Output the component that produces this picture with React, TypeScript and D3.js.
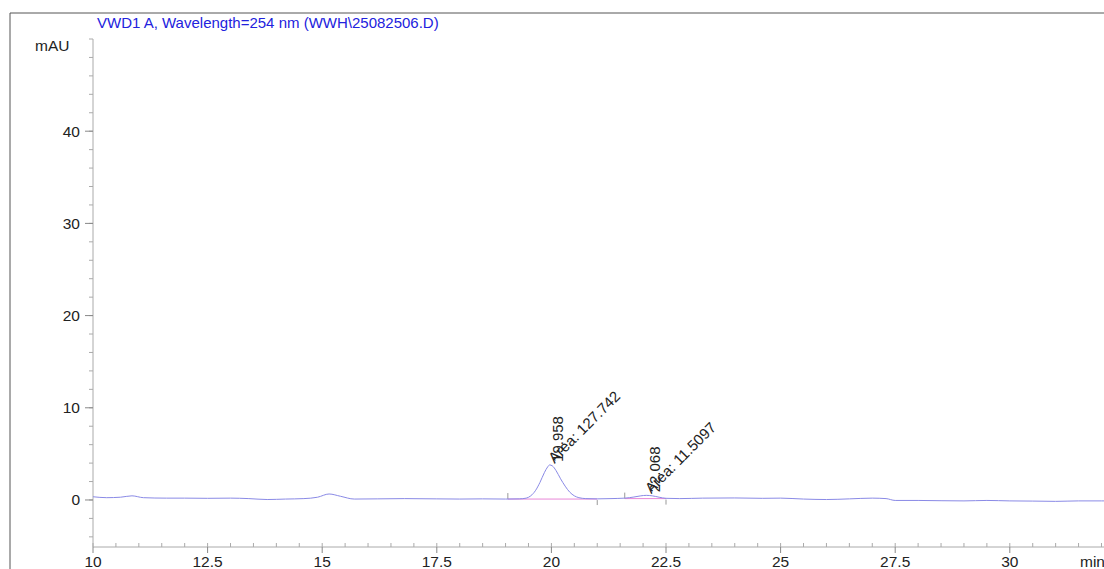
import * as d3 from 'd3';

// retention time (min) and detector signal (mAU)
const times = [
  10, 10.3, 10.6, 10.85, 11.1, 11.6, 12, 12.5, 13, 13.4, 13.8, 14.2, 14.6, 14.9, 15.15, 15.4, 15.7, 16.2,
  16.8, 17.5, 18, 18.5, 19, 19.3, 19.45, 19.55, 19.65, 19.75, 19.85, 19.92, 19.96, 20.02, 20.1, 20.2,
  20.3, 20.4, 20.5, 20.6, 20.75, 21, 21.3, 21.6, 21.8, 21.95, 22.07, 22.2, 22.35, 22.5, 22.8, 23.3,
  24, 24.6, 25, 25.5, 26, 26.5, 27, 27.3, 27.5, 28, 28.5, 29, 29.5, 30, 30.5, 31, 31.5, 32, 32.3,
];
const signal = [
  0.35, 0.25, 0.3, 0.45, 0.25, 0.2, 0.2, 0.18, 0.2, 0.15, 0.05, 0.1, 0.15, 0.3, 0.65, 0.4, 0.1, 0.12,
  0.15, 0.12, 0.1, 0.12, 0.1, 0.12, 0.2, 0.45, 1.0, 1.9, 3.0, 3.6, 3.8, 3.7, 3.2, 2.3,
  1.5, 0.85, 0.45, 0.25, 0.15, 0.12, 0.15, 0.2, 0.32, 0.45, 0.5, 0.45, 0.3, 0.18, 0.15, 0.2,
  0.22, 0.18, 0.2, 0.1, 0.05, 0.12, 0.2, 0.15, -0.05, -0.05, -0.08, -0.1, -0.05, -0.1, -0.12, -0.15, -0.1, -0.1, -0.1,
];

// integrated peaks: retention time, area, baseline start/end
const peakTimes = [19.958, 22.068];
const peakAreas = ['127.742', '11.5097'];
const peakHeights = [3.8, 0.5];
const baseStart = [19.05, 21.6];
const baseEnd = [21.0, 22.5];
const baseLevel = [0.1, 0.15];

const xTicks = [10, 12.5, 15, 17.5, 20, 22.5, 25, 27.5, 30];
const yTicks = [0, 10, 20, 30, 40];

const W = 1104;
const H = 569;
const left = 93;
const bottom = 547;
const top = 39;

export default function App() {
  const x = d3.scaleLinear().domain([10, 32]).range([left, left + 22 * 45.84]);
  const y = d3.scaleLinear().domain([-5.1, 50]).range([bottom, top]);

  const pts: [number, number][] = times.map((t, i) => [t, signal[i]]);
  const line = d3
    .line<[number, number]>()
    .x(d => x(d[0]))
    .y(d => y(d[1]))
    .curve(d3.curveMonotoneX);

  const minorX = d3.range(10, 32.01, 0.5);
  const minorY = d3.range(-4, 50.01, 2);
  const font = 'Liberation Sans, Arial, sans-serif';

  return (
    <div style={{ position: 'fixed', left: 0, top: 0, width: W, height: H, overflow: 'hidden' }}>
      <svg width={W} height={H} style={{ display: 'block', fontFamily: font }}>
        <rect width={W} height={H} fill="#fff" />
        {/* frame */}
        <line x1={10} y1={13} x2={W} y2={13} stroke="#555" strokeWidth={1} />
        <line x1={10} y1={13} x2={10} y2={H} stroke="#555" strokeWidth={1} />

        <text x={97} y={28} fontSize={15} fill="#2222dd">
          VWD1 A, Wavelength=254 nm (WWH\25082506.D)
        </text>
        <text x={35} y={51} fontSize={15.5} fill="#222">mAU</text>

        {/* y axis */}
        <line x1={left} y1={top} x2={left} y2={bottom} stroke="#aaa" />
        {minorY.map(v => (
          <line key={'my' + v} x1={left - 4} x2={left} y1={y(v)} y2={y(v)} stroke="#aaa" />
        ))}
        {yTicks.map(v => (
          <g key={'y' + v}>
            <line x1={left - 8} x2={left} y1={y(v)} y2={y(v)} stroke="#888" />
            <text x={left - 13} y={y(v) + 5.5} fontSize={15.5} textAnchor="end" fill="#222">{v}</text>
          </g>
        ))}

        {/* x axis */}
        <line x1={left} y1={bottom} x2={W} y2={bottom} stroke="#aaa" />
        {minorX.map(v => (
          <line key={'mx' + v} x1={x(v)} x2={x(v)} y1={bottom - 4} y2={bottom} stroke="#aaa" />
        ))}
        {xTicks.map(v => (
          <g key={'x' + v}>
            <line x1={x(v)} x2={x(v)} y1={bottom} y2={bottom + 6} stroke="#888" />
            <text x={x(v)} y={bottom + 20} fontSize={15.5} textAnchor="middle" fill="#222">{v}</text>
          </g>
        ))}
        <text x={1080} y={bottom + 20} fontSize={15.5} fill="#222">min</text>

        {/* integration baselines */}
        {baseStart.map((s, i) => (
          <g key={'b' + i}>
            <line x1={x(s)} x2={x(baseEnd[i])} y1={y(baseLevel[i])} y2={y(baseLevel[i])} stroke="#e888d8" strokeWidth={1} />
            <line x1={x(s)} x2={x(s)} y1={y(baseLevel[i]) - 6} y2={y(baseLevel[i])} stroke="#999" />
            <line x1={x(baseEnd[i])} x2={x(baseEnd[i])} y1={y(baseLevel[i]) + 1} y2={y(baseLevel[i]) + 6} stroke="#999" />
          </g>
        ))}

        <path d={line(pts) ?? ''} fill="none" stroke="#8a8ae6" strokeWidth={1} />

        {/* peak labels */}
        {peakTimes.map((t, i) => {
          const px = x(t);
          const py = y(peakHeights[i]) - 3;
          return (
            <g key={'p' + i} fontSize={15} fill="#222">
              <text transform={`translate(${px + 14},${py}) rotate(-90)`}>{t.toFixed(3)}</text>
              <text transform={`translate(${px + 5},${py + 2}) rotate(-45)`}>{'Area: ' + peakAreas[i]}</text>
            </g>
          );
        })}
      </svg>
    </div>
  );
}
